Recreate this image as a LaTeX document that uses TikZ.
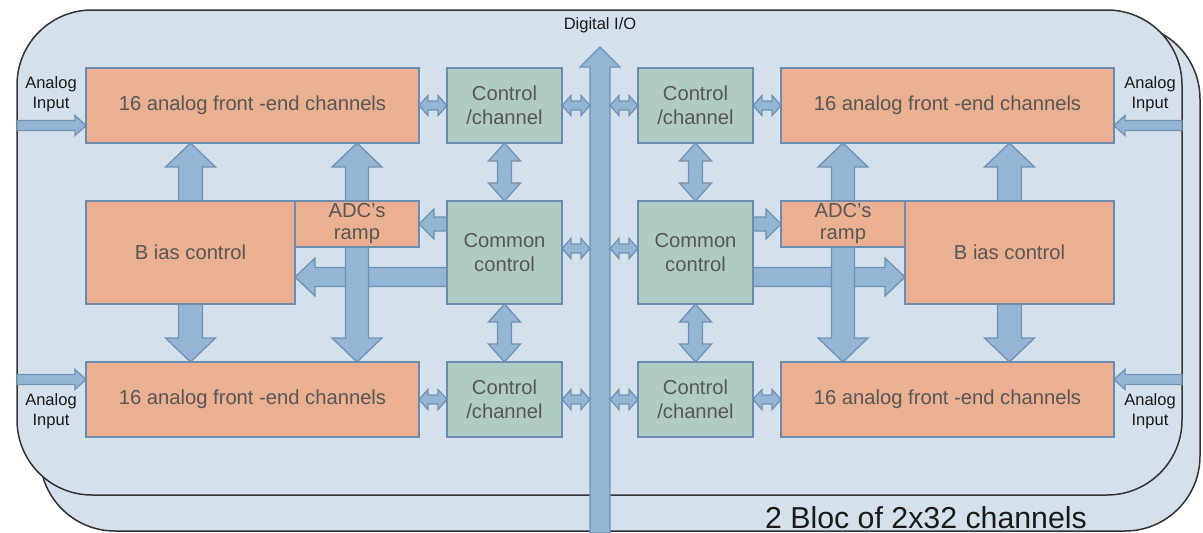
\documentclass[tikz,border=0pt]{standalone}
\usepackage{fontspec}
\setmainfont{Liberation Sans}
\usetikzlibrary{calc}
\definecolor{bgblue}{HTML}{D4E1EC}
\definecolor{framecol}{HTML}{333333}
\definecolor{orangebox}{HTML}{EBB092}
\definecolor{greenbox}{HTML}{B0CBC4}
\definecolor{boxline}{HTML}{6C8DB0}
\definecolor{arrfill}{HTML}{94B5D4}
\definecolor{arrline}{HTML}{6F92B4}
\definecolor{boxtext}{HTML}{575757}
\definecolor{labeltext}{HTML}{1A1A1A}
\pgfdeclarelayer{bg}
\pgfdeclarelayer{arr}
\pgfsetlayers{bg,arr,main}
\tikzset{
  frame/.style={draw=framecol, fill=bgblue, line width=1.5pt, rounded corners=75pt, inner sep=0pt, outer sep=0pt},
  boxbase/.style={draw=boxline, line width=1.8pt, inner sep=0pt, outer sep=0pt, text=boxtext, align=center, font=\fontsize{20.2}{24}\selectfont},
  afe/.style={boxbase, fill=orangebox, minimum width=333pt, minimum height=75pt},
  ccbox/.style={boxbase, fill=greenbox, minimum width=115pt, minimum height=75pt},
  combox/.style={boxbase, fill=greenbox, minimum width=115pt, minimum height=103pt},
  biasbox/.style={boxbase, fill=orangebox, minimum width=209pt, minimum height=103pt},
  rampbox/.style={boxbase, fill=orangebox, minimum width=124pt, minimum height=46pt, font=\fontsize{20.2}{22}\selectfont},
  smalllabel/.style={text=labeltext, align=center, inner sep=0pt, font=\fontsize{16.5}{20}\selectfont},
  blk/.style={fill=arrfill, draw=arrline, line width=1.3pt, line join=miter}
}
\newcommand{\barr}[5]{%
  \coordinate (tA) at #1;
  \coordinate (tB) at #2;
  \coordinate (tC) at ($(tB)!#5!(tA)$);
  \draw[blk] ($(tA)!#3!90:(tB)$) -- ($(tC)!#3!90:(tB)$) -- ($(tC)!#4!90:(tB)$) -- (tB)
    -- ($(tC)!#4!-90:(tB)$) -- ($(tC)!#3!-90:(tB)$) -- ($(tA)!#3!-90:(tB)$) -- cycle;
}
\newcommand{\dbarr}[5]{%
  \coordinate (tA) at #1;
  \coordinate (tB) at #2;
  \coordinate (tC) at ($(tB)!#5!(tA)$);
  \coordinate (tD) at ($(tA)!#5!(tB)$);
  \draw[blk] (tA) -- ($(tD)!#4!90:(tB)$) -- ($(tD)!#3!90:(tB)$) -- ($(tC)!#3!90:(tB)$)
    -- ($(tC)!#4!90:(tB)$) -- (tB) -- ($(tC)!#4!-90:(tB)$) -- ($(tC)!#3!-90:(tB)$)
    -- ($(tD)!#3!-90:(tB)$) -- ($(tD)!#4!-90:(tB)$) -- cycle;
}
\begin{document}
\begin{tikzpicture}[x=1pt, y=-1pt]
\useasboundingbox (0,0) rectangle (1203,533);
% frames
\begin{pgfonlayer}{bg}
  \node[frame, minimum width=1160pt, minimum height=507pt] (back) at (620,277.5) {};
  \node[frame, minimum width=1165pt, minimum height=485pt] (front) at (599.5,252.5) {};
\end{pgfonlayer}

% left blocks
\node[afe] (afeTL) at (252.5,105.5) {16 analog front -end channels};
\node[ccbox] (ccTL) at (504.5,105.5) {Control\\/channel};
\node[biasbox] (biasL) at (190.5,252.5) {B ias control};
\node[rampbox] (rampL) at (357,224) {ADC’s\\ramp};
\node[combox] (comL) at (504.5,252.5) {Common\\control};
\node[afe] (afeBL) at (252.5,399.5) {16 analog front -end channels};
\node[ccbox] (ccBL) at (504.5,399.5) {Control\\/channel};

% right blocks
\node[ccbox] (ccTR) at (695.5,105.5) {Control\\/channel};
\node[afe] (afeTR) at (947.5,105.5) {16 analog front -end channels};
\node[combox] (comR) at (695.5,252.5) {Common\\control};
\node[rampbox] (rampR) at (843,224) {ADC’s\\ramp};
\node[biasbox] (biasR) at (1009.5,252.5) {B ias control};
\node[ccbox] (ccBR) at (695.5,399.5) {Control\\/channel};
\node[afe] (afeBR) at (947.5,399.5) {16 analog front -end channels};

% labels
\node[smalllabel] (dio) at (600,25.5) {Digital I/O};
\node[smalllabel] (ainTL) at (51,94.5) {Analog\\Input};
\node[smalllabel] (ainBL) at (51,411.5) {Analog\\Input};
\node[smalllabel] (ainTR) at (1150,94.5) {Analog\\Input};
\node[smalllabel] (ainBR) at (1150,411.5) {Analog\\Input};
\node[text=labeltext, inner sep=0pt, font=\fontsize{30.3}{34}\selectfont] (title) at (926,518) {2 Bloc of 2x32 channels};

% helper coordinates
\coordinate (busbot) at (600,533);
\coordinate (bustop) at (600,47);
\coordinate (busL) at (590,0);
\coordinate (busR) at (610,0);
\coordinate (inTL) at ([yshift=-20pt]afeTL.west);
\coordinate (inBL) at ([yshift=20pt]afeBL.west);
\coordinate (inTR) at ([yshift=-20pt]afeTR.east);
\coordinate (inBR) at ([yshift=20pt]afeBR.east);
\coordinate (cbL) at ([yshift=-24.5pt]comL.west);
\coordinate (cbR) at ([yshift=-24.5pt]comR.east);

\begin{pgfonlayer}{arr}
  % digital bus
  \barr{(busbot)}{(bustop)}{10pt}{20pt}{20pt}
  % common control -> bias control (big horizontal)
  \barr{(cbL)}{(cbL -| biasL.east)}{9.5pt}{19pt}{20pt}
  \barr{(cbR)}{(cbR -| biasR.west)}{9.5pt}{19pt}{20pt}
  % bias -> AFE
  \barr{(biasL.north)}{(biasL.north |- afeTL.south)}{12pt}{25pt}{24pt}
  \barr{(biasL.south)}{(biasL.south |- afeBL.north)}{12pt}{25pt}{24pt}
  \barr{(biasR.north)}{(biasR.north |- afeTR.south)}{12pt}{25pt}{24pt}
  \barr{(biasR.south)}{(biasR.south |- afeBR.north)}{12pt}{25pt}{24pt}
  % ADC ramp double arrows
  \dbarr{(rampL.north |- afeTL.south)}{(rampL.south |- afeBL.north)}{11.5pt}{25pt}{24pt}
  \dbarr{(rampR.north |- afeTR.south)}{(rampR.south |- afeBR.north)}{11.5pt}{25pt}{24pt}
  % common control -> ramp
  \barr{(comL.west |- rampL.east)}{(rampL.east)}{7pt}{15pt}{15pt}
  \barr{(comR.east |- rampR.west)}{(rampR.west)}{7pt}{15pt}{15pt}
  % control/channel <-> common control
  \dbarr{(ccTL.south)}{(comL.north)}{7pt}{16pt}{18pt}
  \dbarr{(comL.south)}{(ccBL.north)}{7pt}{16pt}{18pt}
  \dbarr{(ccTR.south)}{(comR.north)}{7pt}{16pt}{18pt}
  \dbarr{(comR.south)}{(ccBR.north)}{7pt}{16pt}{18pt}
  % AFE <-> control/channel
  \dbarr{(afeTL.east)}{(ccTL.west)}{4.5pt}{10pt}{9pt}
  \dbarr{(afeBL.east)}{(ccBL.west)}{4.5pt}{10pt}{9pt}
  \dbarr{(ccTR.east)}{(afeTR.west)}{4.5pt}{10pt}{9pt}
  \dbarr{(ccBR.east)}{(afeBR.west)}{4.5pt}{10pt}{9pt}
  % blocks <-> digital bus
  \dbarr{(ccTL.east)}{(ccTL.east -| busL)}{4.5pt}{10pt}{9pt}
  \dbarr{([yshift=4pt]comL.east)}{([yshift=4pt]comL.east -| busL)}{4.5pt}{10pt}{9pt}
  \dbarr{(ccBL.east)}{(ccBL.east -| busL)}{4.5pt}{10pt}{9pt}
  \dbarr{(ccTR.west -| busR)}{(ccTR.west)}{4.5pt}{10pt}{9pt}
  \dbarr{([yshift=4pt]comR.west -| busR)}{([yshift=4pt]comR.west)}{4.5pt}{10pt}{9pt}
  \dbarr{(ccBR.west -| busR)}{(ccBR.west)}{4.5pt}{10pt}{9pt}
  % analog inputs
  \barr{(inTL -| front.west)}{(inTL)}{5pt}{10pt}{11pt}
  \barr{(inBL -| front.west)}{(inBL)}{5pt}{10pt}{11pt}
  \barr{(inTR -| front.east)}{(inTR)}{5pt}{10pt}{11pt}
  \barr{(inBR -| front.east)}{(inBR)}{5pt}{10pt}{11pt}
\end{pgfonlayer}
\end{tikzpicture}
\end{document}
